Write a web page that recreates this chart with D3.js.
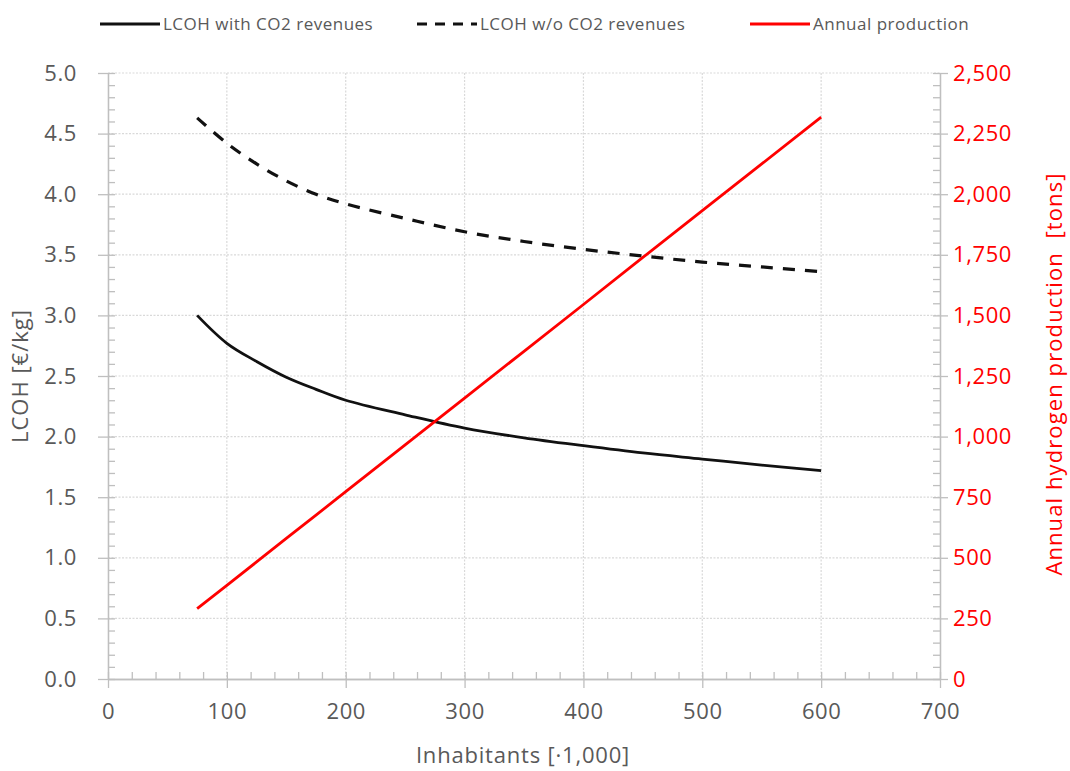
<!DOCTYPE html>
<html>
<head>
<meta charset="utf-8">
<script src="https://cdn.jsdelivr.net/npm/d3@7"></script>
<style>
  body { margin: 0; background: #fff; }
  text { font-family: "Open Sans", sans-serif; }
</style>
</head>
<body>
<div id="canvas"></div>
<script>
(function(d3){

  // inhabitants [x1,000]
  var inhabitants = [75, 100, 125, 150, 175, 200, 250, 300, 350, 400, 450, 500, 550, 600],
      // LCOH [EUR/kg]
      lcohWithCO2 = [3.00, 2.77, 2.62, 2.49, 2.39, 2.30, 2.18, 2.07, 1.99, 1.925, 1.865, 1.815, 1.765, 1.72],
      lcohWithoutCO2 = [4.63, 4.42, 4.25, 4.11, 4.00, 3.92, 3.80, 3.69, 3.61, 3.545, 3.49, 3.44, 3.40, 3.36],
      // annual hydrogen production [tons]
      production = [290, 386, 483, 580, 676, 773, 966, 1159, 1352, 1545, 1739, 1932, 2125, 2318],
      seriesNames = ['LCOH with CO2 revenues', 'LCOH w/o CO2 revenues', 'Annual production'],
      xTicks = [0, 100, 200, 300, 400, 500, 600, 700],
      yTicks = [0, 0.5, 1, 1.5, 2, 2.5, 3, 3.5, 4, 4.5, 5],
      y2Ticks = [0, 250, 500, 750, 1000, 1250, 1500, 1750, 2000, 2250, 2500];

  var canvas_d = {width: 1070, height: 771},
      margin = {top: 73, right: 130, bottom: 92, left: 108},
      chart_d = {
        width: canvas_d.width - margin.left - margin.right,
        height: canvas_d.height - margin.top - margin.bottom
      },
      gray = '#595959',
      axisGray = '#bfbfbf',
      red = '#ff0000',
      tickFont = 22;

  var x = d3.scaleLinear().domain([0, 700]).range([0, chart_d.width]),
      y = d3.scaleLinear().domain([0, 5]).range([chart_d.height, 0]),
      y2 = d3.scaleLinear().domain([0, 2500]).range([chart_d.height, 0]);

  var canvas = d3.select('#canvas').append('svg')
      .attr('width', canvas_d.width)
      .attr('height', canvas_d.height);

  var chart = canvas.append('g')
      .attr('transform', 'translate(' + margin.left + ',' + margin.top + ')');

  /**
   * Gridlines (dotted).
   */
  chart.append('g').selectAll('line')
      .data(yTicks.filter(function(d){ return d > 0; }))
    .enter().append('line')
      .attr('x1', 0).attr('x2', chart_d.width)
      .attr('y1', function(d){ return y(d); })
      .attr('y2', function(d){ return y(d); })
      .attr('stroke', '#d9d9d9')
      .attr('stroke-width', 1.2)
      .attr('stroke-dasharray', '2,1.5');

  chart.append('g').selectAll('line')
      .data(xTicks.filter(function(d){ return d > 0 && d < 700; }))
    .enter().append('line')
      .attr('x1', function(d){ return x(d); })
      .attr('x2', function(d){ return x(d); })
      .attr('y1', 0).attr('y2', chart_d.height)
      .attr('stroke', '#d9d9d9')
      .attr('stroke-width', 1.2)
      .attr('stroke-dasharray', '2,1.5');

  /**
   * Axes: major ticks outside, minor ticks inside.
   */
  function styleAxis(g, color) {
    g.select('.domain').attr('stroke', axisGray).attr('stroke-width', 1.3);
    g.selectAll('.tick line').attr('stroke', axisGray).attr('stroke-width', 1.3);
    g.selectAll('.tick text').attr('fill', color)
      .style('font-size', tickFont + 'px')
      .style('letter-spacing', '0.6px');
  }

  var xMinor = chart.append('g')
      .attr('transform', 'translate(0,' + chart_d.height + ')')
      .call(d3.axisTop(x).tickValues(d3.range(0, 701, 20)).tickSize(7).tickFormat('').tickSizeOuter(0));
  styleAxis(xMinor, gray);

  var yMinor = chart.append('g')
      .call(d3.axisRight(y).tickValues(d3.range(0, 51).map(function(d){ return d / 10; })).tickSize(7).tickFormat('').tickSizeOuter(0));
  styleAxis(yMinor, gray);

  var y2Minor = chart.append('g')
      .attr('transform', 'translate(' + chart_d.width + ',0)')
      .call(d3.axisLeft(y2).tickValues(d3.range(0, 2501, 50)).tickSize(7).tickFormat('').tickSizeOuter(0));
  styleAxis(y2Minor, gray);

  var xAxis = chart.append('g')
      .attr('transform', 'translate(0,' + chart_d.height + ')')
      .call(d3.axisBottom(x).tickValues(xTicks).tickSize(9).tickPadding(15).tickSizeOuter(0));
  styleAxis(xAxis, gray);

  var yAxis = chart.append('g')
      .call(d3.axisLeft(y).tickValues(yTicks).tickSize(10).tickPadding(21).tickSizeOuter(0)
        .tickFormat(d3.format('.1f')));
  styleAxis(yAxis, gray);

  var y2Axis = chart.append('g')
      .attr('transform', 'translate(' + chart_d.width + ',0)')
      .call(d3.axisRight(y2).tickValues(y2Ticks).tickSize(8).tickPadding(5).tickSizeOuter(0)
        .tickFormat(d3.format(',')));
  styleAxis(y2Axis, red);
  y2Axis.selectAll('.tick text').attr('text-anchor', 'start');

  /**
   * Lines.
   */
  var lineL = d3.line()
      .x(function(d){ return x(d[0]); })
      .y(function(d){ return y(d[1]); })
      .curve(d3.curveCatmullRom.alpha(0.5));

  var lineP = d3.line()
      .x(function(d){ return x(d[0]); })
      .y(function(d){ return y2(d[1]); });

  chart.append('path')
      .datum(d3.zip(inhabitants, lcohWithoutCO2))
      .attr('d', lineL)
      .attr('fill', 'none')
      .attr('stroke', '#111')
      .attr('stroke-width', 3.2)
      .attr('stroke-dasharray', '12,10');

  chart.append('path')
      .datum(d3.zip(inhabitants, lcohWithCO2))
      .attr('d', lineL)
      .attr('fill', 'none')
      .attr('stroke', '#111')
      .attr('stroke-width', 2.8);

  chart.append('path')
      .datum(d3.zip(inhabitants, production))
      .attr('d', lineP)
      .attr('fill', 'none')
      .attr('stroke', red)
      .attr('stroke-width', 2.8);

  /**
   * Axis titles.
   */
  canvas.append('text')
      .attr('x', 523)
      .attr('y', 763)
      .attr('text-anchor', 'middle')
      .attr('fill', gray)
      .style('font-size', '22px')
      .style('letter-spacing', '0.8px')
      .text('Inhabitants [\u00b71,000]');

  canvas.append('text')
      .attr('transform', 'translate(28,376) rotate(-90)')
      .attr('text-anchor', 'middle')
      .attr('fill', gray)
      .style('font-size', '22px')
      .style('letter-spacing', '1px')
      .text('LCOH [\u20ac/kg]');

  canvas.append('text')
      .attr('transform', 'translate(1062,374) rotate(-90)')
      .attr('text-anchor', 'middle')
      .attr('fill', red)
      .style('font-size', '22px')
      .style('letter-spacing', '1.1px')
      .style('white-space', 'pre')
      .text('Annual hydrogen production  [tons]');

  /**
   * Legend.
   */
  var legendX = [100, 417, 750],
      legendStyle = [
        {stroke: '#111', dash: null},
        {stroke: '#111', dash: '10,8'},
        {stroke: red, dash: null}
      ];

  var legend = canvas.append('g').selectAll('g')
      .data(seriesNames)
    .enter().append('g')
      .attr('transform', function(d, i){ return 'translate(' + legendX[i] + ',24)'; });

  legend.append('line')
      .attr('x1', 0).attr('x2', 60)
      .attr('stroke', function(d, i){ return legendStyle[i].stroke; })
      .attr('stroke-dasharray', function(d, i){ return legendStyle[i].dash; })
      .attr('stroke-width', 3);

  legend.append('text')
      .attr('x', 63)
      .attr('y', 6)
      .attr('fill', gray)
      .style('font-size', '17px')
      .style('letter-spacing', '0.5px')
      .text(function(d){ return d; });

})(d3);
</script>
</body>
</html>
